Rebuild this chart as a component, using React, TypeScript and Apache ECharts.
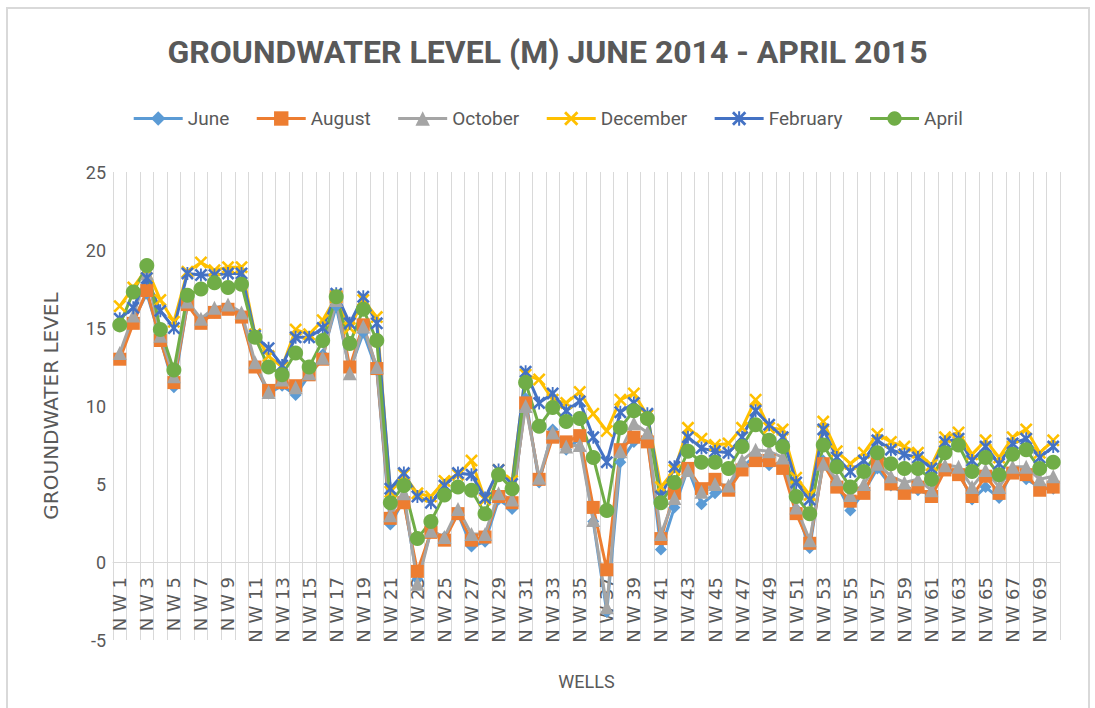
import React, { useEffect, useRef } from "react";
import * as echarts from "echarts";

const wells: string[] = Array.from({ length: 70 }, (_, i) => "N W " + (i + 1));

const june = [13.2,15.5,17.2,14.3,11.2,16.5,15.5,16.0,16.3,15.8, 12.6,10.8,11.3,10.7,12.0,13.3,16.4,12.3,14.7,12.3, 2.4,4.0,-1.1,2.0,1.6,3.1,1.0,1.3,4.0,3.4, 10.5,5.1,8.5,7.2,7.9,2.6,-3.2,6.4,7.7,8.0, 0.8,3.5,6.0,3.7,4.4,4.7,6.1,6.8,6.2,6.2, 3.4,0.9,6.5,5.0,3.3,4.5,6.0,4.9,4.4,4.6, 4.3,6.0,5.8,4.0,4.8,4.1,5.9,5.3,4.8,4.7];
const august = [13.0,15.3,17.4,14.2,11.5,16.5,15.3,16.0,16.2,15.7, 12.5,11.0,11.5,11.3,12.0,13.0,17.0,12.5,15.2,12.4, 2.8,3.8,-0.6,1.9,1.4,3.1,1.4,1.6,4.2,3.8, 10.2,5.3,8.0,7.7,8.1,3.5,-0.5,7.2,8.0,7.7, 1.5,4.4,6.0,4.7,5.3,4.6,5.9,6.5,6.5,6.0, 3.1,1.2,6.3,4.8,3.9,4.4,6.3,5.0,4.4,4.8, 4.2,5.9,5.6,4.2,5.5,4.4,5.7,5.6,4.6,4.8];
const october = [13.4,15.8,18.5,14.5,11.9,16.7,15.6,16.3,16.5,16.0, 12.8,10.9,11.7,11.2,12.1,13.1,16.8,12.1,15.1,12.5, 3.0,4.4,-1.4,2.0,1.6,3.4,1.8,1.8,4.4,4.0, 10.0,5.4,8.3,7.4,7.5,2.7,-2.9,7.1,8.9,8.3, 1.8,4.1,5.9,4.5,5.0,4.9,6.5,7.2,7.1,6.7, 3.5,1.4,6.3,5.3,4.3,5.0,6.3,5.5,5.1,5.3, 4.6,6.2,6.1,4.8,5.9,4.8,6.1,6.1,5.3,5.5];
const december = [16.4,17.6,18.8,16.8,15.4,18.6,19.2,18.7,18.9,18.9, 14.6,13.2,12.5,14.9,14.6,15.5,17.0,15.0,16.8,15.7, 4.5,5.6,4.4,4.2,5.2,5.6,6.5,4.0,5.9,5.2, 12.0,11.7,10.4,10.2,10.9,9.5,8.4,10.4,10.8,9.4, 4.8,5.9,8.6,7.9,7.5,7.6,8.6,10.4,8.6,8.5, 5.4,4.3,9.0,7.1,6.3,7.0,8.2,7.7,7.4,7.0, 6.2,8.0,8.3,6.9,7.8,6.7,8.0,8.5,7.0,7.8];
const february = [15.6,16.3,18.2,16.1,15.0,18.5,18.4,18.4,18.5,18.5, 14.5,13.7,12.6,14.4,14.4,15.0,17.2,15.3,17.0,15.3, 4.7,5.7,4.2,3.8,4.9,5.7,5.6,4.1,5.9,5.0, 12.2,10.2,10.8,9.7,10.3,8.0,6.4,9.6,10.2,9.5, 4.2,6.1,8.0,7.3,7.1,7.0,8.0,9.7,8.8,8.0, 5.1,4.0,8.5,6.7,5.8,6.5,7.8,7.2,6.9,6.7, 6.0,7.7,7.9,6.5,7.4,6.3,7.6,7.9,6.7,7.4];
const april = [15.2,17.3,19.0,14.9,12.3,17.1,17.5,17.9,17.6,17.8, 14.4,12.5,12.0,13.4,12.5,14.2,17.0,14.0,16.2,14.2, 3.8,4.9,1.5,2.6,4.3,4.8,4.6,3.1,5.6,4.7, 11.5,8.7,9.9,9.0,9.2,6.7,3.3,8.6,9.7,9.2, 3.8,5.1,7.1,6.4,6.4,6.0,7.4,8.8,7.8,7.4, 4.2,3.1,7.5,6.1,4.8,5.8,7.0,6.3,6.0,6.0, 5.3,7.0,7.5,5.8,6.7,5.6,6.9,7.2,6.0,6.4];

const seriesNames = ["June", "August", "October", "December", "February", "April"];
const seriesData = [june, august, october, december, february, april];
const colors = ["#5B9BD5", "#ED7D31", "#A5A5A5", "#FFC000", "#4472C4", "#70AD47"];

const X_PATH = "path://M0,1.4L1.4,0L5,3.6L8.6,0L10,1.4L6.4,5L10,8.6L8.6,10L5,6.4L1.4,10L0,8.6L3.6,5Z";
const STAR_PATH = X_PATH + "M4.3,0L5.7,0L5.7,10L4.3,10Z";
const symbols = ["diamond", "rect", "triangle", X_PATH, STAR_PATH, "circle"];
const symbolSizes = [12, 13, 14, 13, 13, 15];

const TXT = "#595959";
const Y_MIN = -5;
const Y_MAX = 25;
const GRID_TOP = 172;
const GRID_BOTTOM = 68;
const CHART_H = 708;

export default function App() {
  const ref = useRef<HTMLDivElement>(null);
  useEffect(() => {
    document.body.style.margin = "0";
    const chart = echarts.init(ref.current!, undefined, { renderer: "svg" });
    // place the category axis on the zero line (the labels follow it, like the reference)
    const plotH = CHART_H - GRID_TOP - GRID_BOTTOM;
    const zeroOffset = -((0 - Y_MIN) / (Y_MAX - Y_MIN)) * plotH;
    chart.setOption({
      animation: false,
      backgroundColor: "#ffffff",
      title: {
        text: "GROUNDWATER LEVEL (M) JUNE 2014 - APRIL 2015",
        left: "center",
        top: 31,
        textStyle: { fontFamily: "Roboto", fontWeight: "bold", fontSize: 32, color: TXT },
      },
      legend: {
        top: 104,
        left: "center",
        itemWidth: 49,
        itemHeight: 18,
        itemGap: 26,
        lineStyle: { width: 3 },
        textStyle: { fontFamily: "Roboto", fontSize: 19, color: TXT },
        data: seriesNames,
      },
      graphic: [
        {
          type: "rect",
          shape: { x: 7, y: 8, width: 1082, height: 720 },
          style: { fill: "none", stroke: "#D9D9D9", lineWidth: 2 },
          silent: true,
        },
      ],
      grid: { left: 113, right: 35, top: GRID_TOP, bottom: GRID_BOTTOM, containLabel: false, outerBoundsMode: "none" },
      xAxis: [
        {
          type: "category",
          data: wells,
          boundaryGap: true,
          position: "bottom",
          offset: zeroOffset,
          name: "WELLS",
          nameLocation: "middle",
          nameGap: 110,
          nameTextStyle: { fontFamily: "Roboto", fontSize: 18, color: TXT },
          axisLine: { onZero: false, lineStyle: { color: "#D9D9D9", width: 1 } },
          axisTick: { show: false },
          axisLabel: {
            interval: 1,
            rotate: 90,
            margin: 15,
            fontFamily: "DejaVu Sans",
            fontSize: 18,
            color: TXT,
          },
          splitLine: { show: true, interval: 0, lineStyle: { color: "#D9D9D9", width: 1 } },
        },
      ],
      yAxis: {
        type: "value",
        min: Y_MIN,
        max: Y_MAX,
        interval: 5,
        name: "GROUNDWATER LEVEL",
        nameLocation: "middle",
        nameGap: 52,
        nameTextStyle: { fontFamily: "DejaVu Sans", fontSize: 20, color: TXT },
        axisLine: { show: false },
        axisTick: { show: false },
        splitLine: { show: false },
        axisLabel: { fontFamily: "Roboto", fontSize: 18, color: TXT, margin: 7 },
      },
      series: seriesNames.map((name, i) => ({
        name,
        type: "line",
        data: seriesData[i],
        symbol: symbols[i],
        symbolSize: symbolSizes[i],
        showAllSymbol: true,
        lineStyle: { width: 3, color: colors[i], join: "round" },
        itemStyle: { color: colors[i] },
        emphasis: { disabled: true },
      })),
    });
    return () => chart.dispose();
  }, []);
  return <div ref={ref} style={{ position: "absolute", left: 0, top: 0, width: 1095, height: 708 }} />;
}
